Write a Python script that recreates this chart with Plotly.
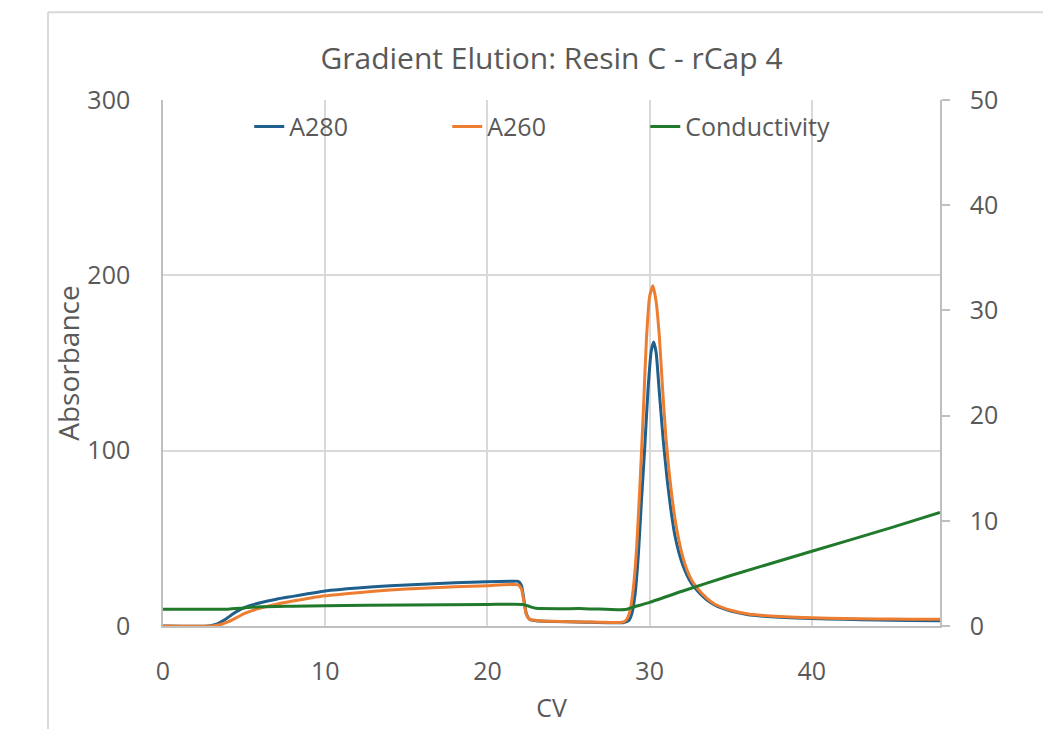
import plotly.graph_objects as go

# ---- data ----
cv_a280 = [0, 2.8, 3.3, 3.8, 4.3, 4.9, 5.5, 6.0, 7, 8, 9, 10, 12, 14, 16, 18, 20, 21.5, 21.9,
           22.1, 22.25, 22.4, 22.6, 23.0, 24, 26, 28, 28.4, 28.7, 28.9, 29.1, 29.3, 29.5, 29.7,
           29.9, 30.1, 30.25, 30.4, 30.6, 30.8, 30.9, 31.1, 31.3, 31.55, 31.8, 32.0, 32.3, 32.6,
           33.0, 33.5, 34, 34.5, 35, 36, 37, 38, 40, 42, 44, 46, 47.9]
a280 = [0, 0, 1.0, 3.5, 6.8, 10.0, 12.0, 13.3, 15.3, 16.9, 18.5, 20.0, 21.7, 22.9, 23.8, 24.6, 25.2, 25.5, 25.5,
        23.0, 15.0, 7.0, 3.8, 3.0, 2.6, 2.2, 1.8, 2.0, 3.0, 7.0, 18, 40, 72, 102,
        135, 157, 162, 156, 133, 110, 100, 82, 67, 52, 42, 36, 29, 24,
        19.5, 15, 12, 10, 8.5, 6.6, 5.6, 5.0, 4.3, 3.8, 3.4, 3.2, 3.0]

cv_a260 = [0, 3.0, 3.5, 4.0, 4.5, 5.0, 5.5, 6.0, 7, 8, 9, 10, 12, 14, 16, 18, 20, 21.9,
           22.1, 22.25, 22.4, 22.6, 23.0, 24, 26, 28, 28.4, 28.6, 28.8, 29.0, 29.2, 29.4, 29.6,
           29.8, 30.0, 30.2, 30.4, 30.6, 30.8, 31.0, 31.2, 31.4, 31.6, 31.8, 32.0, 32.3, 32.6,
           33.0, 33.5, 34.0, 34.5, 35, 36, 37, 38, 40, 42, 44, 46, 47.9]
a260 = [0, 0, 0.7, 2.3, 4.6, 7.0, 8.8, 10.2, 12.4, 14.2, 15.8, 17.2, 19.0, 20.5, 21.6, 22.4, 23.0, 23.5,
        21.0, 14.0, 6.5, 3.8, 3.2, 2.7, 2.3, 2.0, 2.4, 4.0, 9.0, 22, 45, 80, 120,
        163, 188, 194, 185, 165, 135, 108, 88, 72, 59, 49, 41, 32, 26,
        21, 16, 12.5, 10.5, 9.0, 7.0, 6.0, 5.4, 4.7, 4.3, 4.0, 3.9, 3.8]

cv_cond = [0, 4, 5, 6, 8, 10, 15, 20, 22.2, 22.6, 23.0, 26, 28, 28.6, 29, 30, 32, 35, 40, 45, 47.9]
conductivity = [1.6, 1.6, 1.72, 1.82, 1.88, 1.93, 2.0, 2.05, 2.05, 1.85, 1.68, 1.65, 1.55, 1.6, 1.8,
                2.25, 3.3, 4.8, 7.1, 9.4, 10.8]

x_ticks = [0, 10, 20, 30, 40]
y_ticks = [0, 100, 200, 300]
y2_ticks = [0, 10, 20, 30, 40, 50]

FONT = "Open Sans"
GREY = "#595959"
GRID = "#d9d9d9"

fig = go.Figure()
fig.add_trace(go.Scatter(x=cv_a280, y=a280, name="A280", mode="lines",
                         line=dict(color="#1F5F8B", width=3, shape="spline", smoothing=0.5)))
fig.add_trace(go.Scatter(x=cv_a260, y=a260, name="A260", mode="lines",
                         line=dict(color="#ED7D31", width=3, shape="spline", smoothing=0.5)))
fig.add_trace(go.Scatter(x=cv_cond, y=conductivity, name="Conductivity", mode="lines", yaxis="y2",
                         line=dict(color="#217A2B", width=3, shape="spline", smoothing=0.5)))

fig.update_layout(
    width=1043, height=729,
    margin=dict(l=163, r=103, t=100, b=103, autoexpand=False),
    paper_bgcolor="white", plot_bgcolor="white",
    font=dict(family=FONT, color=GREY, size=25),
    title=dict(text="Gradient Elution: Resin C - rCap 4", x=0.5, xref="paper", xanchor="center",
               y=1 - 58 / 729, yref="container", yanchor="middle",
               font=dict(family=FONT, size=30, color=GREY)),
    xaxis=dict(range=[0, 47.9], tickvals=x_ticks, showgrid=True, gridcolor=GRID, gridwidth=1.5,
               zeroline=False, showline=True, linecolor="#bfbfbf", linewidth=1.5,
               ticks="", ticklabelstandoff=22, tickfont=dict(size=25, color=GREY),
               title=dict(text="CV", standoff=14, font=dict(size=25, color=GREY))),
    yaxis=dict(range=[0, 300], tickvals=y_ticks, showgrid=True, gridcolor=GRID, gridwidth=1.5,
               zeroline=False, showline=True, linecolor="#bfbfbf", linewidth=1.5,
               ticks="", ticklabelstandoff=26, tickfont=dict(size=25, color=GREY),
               title=dict(text="Absorbance", standoff=0, font=dict(size=28, color=GREY))),
    yaxis2=dict(range=[0, 50], tickvals=y2_ticks, overlaying="y", side="right", showgrid=False,
                zeroline=False, showline=True, linecolor="#bfbfbf", linewidth=1.5,
                ticks="outside", ticklen=8, tickwidth=1.5, tickcolor="#bfbfbf",
                ticklabelstandoff=15, tickfont=dict(size=25, color=GREY)),
    legend=dict(orientation="h", x=0.111, xanchor="left", y=0.949, yanchor="middle",
                bgcolor="rgba(0,0,0,0)", font=dict(size=25, color=GREY),
                entrywidth=153, entrywidthmode="pixels"),
    showlegend=True,
)

# chart-area frame (cropped Excel border)
fig.add_shape(type="line", xref="paper", yref="paper", x0=-0.148, x1=1.2, y0=1.167, y1=1.167,
              line=dict(color="#d9d9d9", width=2))
fig.add_shape(type="line", xref="paper", yref="paper", x0=-0.148, x1=-0.148, y0=1.167, y1=-0.3,
              line=dict(color="#d9d9d9", width=2))

fig.write_html("out.html")
